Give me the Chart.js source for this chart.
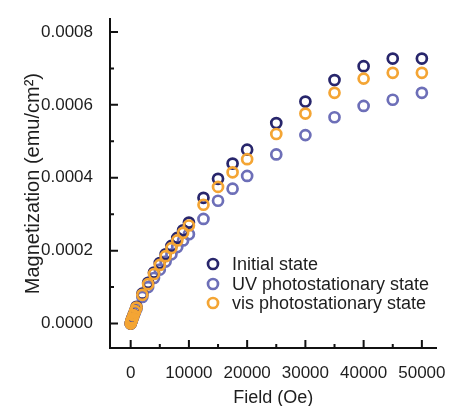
<!DOCTYPE html>
<html lang="en">
<head>
    <meta charset="UTF-8" />
    <title>Magnetization vs Field</title>
    <script src="https://cdn.jsdelivr.net/npm/chart.js"></script>
    <style>
        body { margin: 0; background: #fff; }
    </style>
</head>
<body>
    <canvas id="grafico" width="453" height="406"></canvas>

<script>
    // field values (Oe)
    const campo = [0, 100, 200, 300, 500, 750, 1000, 2000, 3000, 4000, 5000, 6000, 7000, 8000, 9000, 10000,
                   12500, 15000, 17500, 20000, 25000, 30000, 35000, 40000, 45000, 50000];

    // magnetization (emu/cm2)
    const inicial = [0, 0.000005, 0.000010, 0.000015, 0.000024, 0.000035, 0.000046, 0.000082, 0.000112, 0.000140,
                     0.000166, 0.000190, 0.000213, 0.000235, 0.000256, 0.000277,
                     0.000345, 0.000397, 0.000439, 0.000477, 0.000550, 0.000609, 0.000668, 0.000706, 0.000727, 0.000727];
    const uv = [0, 0.000004, 0.000009, 0.000013, 0.000021, 0.000031, 0.000041, 0.000073, 0.000100, 0.000125,
                0.000148, 0.000170, 0.000190, 0.000210, 0.000228, 0.000245,
                0.000287, 0.000337, 0.000370, 0.000405, 0.000464, 0.000517, 0.000566, 0.000597, 0.000614, 0.000633];
    const vis = [0, 0.000005, 0.000010, 0.000014, 0.000023, 0.000034, 0.000044, 0.000079, 0.000108, 0.000136,
                 0.000161, 0.000185, 0.000207, 0.000228, 0.000249, 0.000269,
                 0.000326, 0.000375, 0.000415, 0.000451, 0.000520, 0.000576, 0.000633, 0.000672, 0.000688, 0.000688];

    const nomes = ['Initial state', 'UV photostationary state', 'vis photostationary state'];
    const cores = ['#28266c', '#6d6fb8', '#f4a534'];

    const xMajor = [0, 10000, 20000, 30000, 40000, 50000];
    const xMinor = [5000, 15000, 25000, 35000, 45000];
    const yMajor = [0, 0.0002, 0.0004, 0.0006, 0.0008];
    const yMinor = [0.0001, 0.0003, 0.0005, 0.0007];

    const pontos = (ys) => campo.map((x, i) => ({ x: x, y: ys[i] }));

    // inward tick marks + legend inside the plot
    const extras = {
        id: 'extras',
        afterDraw(chart) {
            const c = chart.ctx;
            const sx = chart.scales.x, sy = chart.scales.y;
            const area = chart.chartArea;
            c.save();
            c.strokeStyle = '#111';
            c.lineWidth = 2;
            c.beginPath();
            xMajor.forEach(v => { const p = sx.getPixelForValue(v); c.moveTo(p, area.bottom); c.lineTo(p, area.bottom - 8); });
            xMinor.forEach(v => { const p = sx.getPixelForValue(v); c.moveTo(p, area.bottom); c.lineTo(p, area.bottom - 4); });
            yMajor.forEach(v => { const p = sy.getPixelForValue(v); c.moveTo(area.left, p); c.lineTo(area.left + 8, p); });
            yMinor.forEach(v => { const p = sy.getPixelForValue(v); c.moveTo(area.left, p); c.lineTo(area.left + 4, p); });
            c.stroke();

            // legend
            c.font = '18px "Liberation Sans", Arial, sans-serif';
            c.textBaseline = 'middle';
            c.lineWidth = 2.7;
            const linhas = [264, 284, 303];
            nomes.forEach((n, i) => {
                c.strokeStyle = cores[i];
                c.beginPath();
                c.arc(213, linhas[i], 5, 0, Math.PI * 2);
                c.stroke();
                c.fillStyle = '#1e1e1e';
                c.fillText(n, 232, linhas[i] + 1);
            });
            c.restore();
        }
    };

    const ctx = document.getElementById('grafico').getContext('2d');
    const chart = new Chart(ctx, {
        type: 'scatter',
        data: {
            datasets: [
                { label: nomes[0], data: pontos(inicial), borderColor: cores[0], order: 1 },
                { label: nomes[1], data: pontos(uv), borderColor: cores[1], order: 2 },
                { label: nomes[2], data: pontos(vis), borderColor: cores[2], order: 0 }
            ]
        },
        options: {
            responsive: false,
            animation: false,
            layout: { padding: { top: 12, right: 11, left: 0, bottom: 0 } },
            elements: {
                point: { radius: 5, borderWidth: 2.7, backgroundColor: 'rgba(0,0,0,0)', pointStyle: 'circle' }
            },
            scales: {
                x: {
                    type: 'linear',
                    min: -3550,
                    max: 52530,
                    afterFit: (s) => { s.height = 58; },
                    afterBuildTicks: (s) => { s.ticks = xMajor.map(v => ({ value: v })); },
                    grid: { display: false },
                    border: { display: true, color: '#111', width: 2 },
                    ticks: {
                        color: '#1e1e1e',
                        padding: 7,
                        maxRotation: 0,
                        font: { family: '"Liberation Sans", Arial, sans-serif', size: 17 },
                        callback: (v) => String(v)
                    },
                    title: {
                        display: true,
                        text: 'Field (Oe)',
                        color: '#1e1e1e',
                        padding: { top: 0, bottom: -2 },
                        font: { family: '"Liberation Sans", Arial, sans-serif', size: 18, lineHeight: 1.1 }
                    }
                },
                y: {
                    type: 'linear',
                    min: -0.000067,
                    max: 0.000835,
                    afterFit: (s) => { s.width = 110; },
                    afterBuildTicks: (s) => { s.ticks = yMajor.map(v => ({ value: v })); },
                    grid: { display: false },
                    border: { display: true, color: '#111', width: 2 },
                    ticks: {
                        color: '#1e1e1e',
                        padding: 9,
                        font: { family: '"Liberation Sans", Arial, sans-serif', size: 17 },
                        callback: (v) => Number(v).toFixed(4)
                    },
                    title: {
                        display: true,
                        text: 'Magnetization (emu/cm²)',
                        color: '#1e1e1e',
                        padding: { top: 21, bottom: 0 },
                        font: { family: '"Liberation Sans", Arial, sans-serif', size: 20 }
                    }
                }
            },
            plugins: {
                legend: { display: false },
                tooltip: { enabled: false }
            }
        },
        plugins: [extras]
    });
</script>
</body>
</html>
